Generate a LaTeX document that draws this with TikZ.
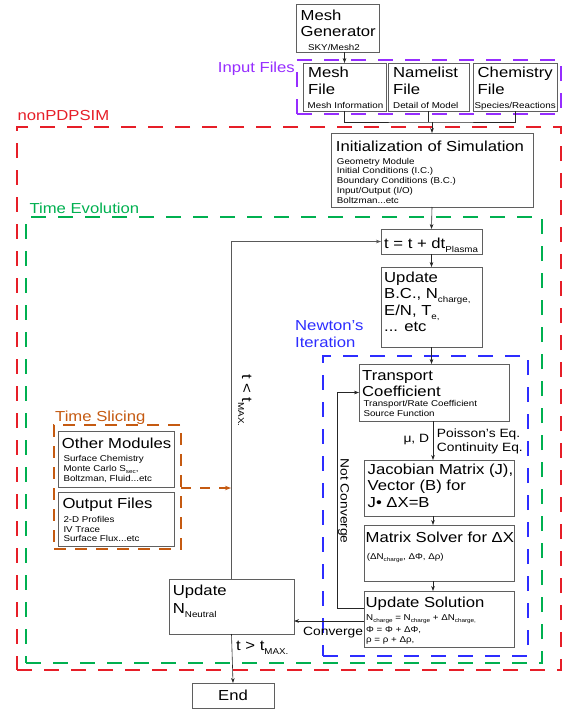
\documentclass[tikz,border=0pt]{standalone}
\usepackage{fontspec}
\setmainfont{Liberation Sans}[FakeStretch=1.15]
\usetikzlibrary{arrows.meta}
\definecolor{nred}{RGB}{230,30,40}
\definecolor{npurple}{RGB}{150,45,255}
\definecolor{ngreen}{RGB}{0,176,80}
\definecolor{nblue}{RGB}{45,45,255}
\definecolor{norange}{RGB}{197,90,17}
\definecolor{boxgray}{RGB}{95,95,95}
\newcommand\fbig{\fontsize{14.5}{16.5}\selectfont}
\newcommand\fsmall{\fontsize{8.5}{9.8}\selectfont}
\newcommand\fmid{\fontsize{12}{14.4}\selectfont}
\newcommand\topB{\rule{0pt}{11pt}}
\newcommand\topS{\rule{0pt}{7pt}}
\newcommand\topM{\rule{0pt}{9pt}}
\newcommand\lsub[1]{\raisebox{-4pt}{\fontsize{8.5}{9}\selectfont #1}}
\newcommand\ssub[1]{\raisebox{-1.8pt}{\fontsize{5.5}{6}\selectfont #1}}
\tikzset{
 nbox/.style={draw=boxgray, line width=0.9pt, inner sep=0pt, outer sep=0pt, anchor=north west},
 dframe/.style={draw=#1, line width=1.2pt, dash pattern=on 15pt off 12pt, inner sep=0pt, outer sep=0pt, anchor=north west},
 bt/.style={anchor=north west, inner sep=0pt, align=left, font=\fbig},
 st/.style={anchor=north west, inner sep=0pt, align=left, font=\fsmall},
 mt/.style={anchor=north west, inner sep=0pt, align=left, font=\fmid},
 lab/.style={anchor=base west, inner sep=0pt, font=\fbig},
 mlab/.style={anchor=base west, inner sep=0pt, font=\fmid},
 arr/.style={draw=black!85, line width=0.6pt, -{Stealth[length=5pt,width=3.6pt]}},
 ln/.style={draw=black!85, line width=0.6pt},
}
\begin{document}
\begin{tikzpicture}[x=1pt,y=-1pt]
\useasboundingbox (0,0) rectangle (582,718);

% dashed frames
\node[dframe=nred, minimum width=544pt, minimum height=543pt] (nonpd) at (17,127) {};
\node[dframe=ngreen, minimum width=516pt, minimum height=446pt] (tevo) at (26,217) {};
\node[dframe=nblue, minimum width=205pt, minimum height=300pt] (newt) at (323,356) {};
\node[dframe=norange, dash pattern=on 12pt off 9pt, minimum width=127pt, minimum height=124pt] (tsl) at (54,425) {};
\node[dframe=npurple, minimum width=264pt, minimum height=54pt] (inp) at (297,60) {};

% frame labels
\node[lab, text=npurple] (inpL) at (217.7,72.7) {Input Files};
\node[lab, text=nred] (nonL) at (17.3,120.7) {nonPDPSIM};
\node[lab, text=ngreen] (tevL) at (29.3,213.3) {Time Evolution};
\node[bt, text=nblue, font=\fontsize{14.5}{16.6}\selectfont] (newL) at (295,319.7) {\topB Newton's\\Iteration};
\node[lab, text=norange] (tslL) at (55,421) {Time Slicing};

% boxes
\node[nbox, minimum width=83pt, minimum height=48pt] (gen) at (296,4) {};
\node[nbox, minimum width=83pt, minimum height=48pt] (meshf) at (303,63) {};
\node[nbox, minimum width=81pt, minimum height=48pt] (namef) at (388,63) {};
\node[nbox, minimum width=84pt, minimum height=48pt] (chemf) at (473,63) {};
\node[nbox, minimum width=202pt, minimum height=74pt] (init) at (331,133) {};
\node[nbox, minimum width=101pt, minimum height=25pt] (tbox) at (381,229) {};
\node[nbox, minimum width=101pt, minimum height=80pt] (upd) at (381,267) {};
\node[nbox, minimum width=150pt, minimum height=57pt] (trans) at (359,364) {};
\node[nbox, minimum width=150pt, minimum height=56pt] (jac) at (364,460) {};
\node[nbox, minimum width=150pt, minimum height=56pt] (msolve) at (364,525) {};
\node[nbox, minimum width=150pt, minimum height=56pt] (usol) at (364,591) {};
\node[nbox, minimum width=125pt, minimum height=55pt] (unn) at (169,579) {};
\node[nbox, minimum width=82pt, minimum height=25pt, font=\fbig] (endb) at (192,683) {End};
\node[nbox, minimum width=116pt, minimum height=56pt] (other) at (58,431) {};
\node[nbox, minimum width=116pt, minimum height=54pt] (outf) at (58,492) {};

% box texts
\node[bt] (genT) at (300.5,9) {\topB Mesh\\Generator};
\node[st] (genS) at (308,43) {\topS SKY/Mesh2};
\node[bt] (meshT) at (308,66.7) {\topB Mesh\\[0.5pt]File};
\node[st] (meshS) at (307.5,101.3) {\topS Mesh Information};
\node[bt] (nameT) at (393,66.7) {\topB Namelist\\[0.5pt]File};
\node[st] (nameS) at (393,101.3) {\topS Detail of Model};
\node[bt] (chemT) at (477.5,66.7) {\topB Chemistry\\[0.5pt]File};
\node[st] (chemS) at (474.5,101.3) {\topS Species/Reactions};
\node[bt] (initT) at (335.7,140.7) {\topB Initialization of Simulation};
\node[st, font=\fontsize{8.5}{9.7}\selectfont] (initS) at (336.7,157) {\topS Geometry Module\\Initial Conditions (I.C.)\\Boundary Conditions (B.C.)\\Input/Output (I/O)\\Boltzman...etc};
\node[bt] (tT) at (384,237.3) {\topB t = t + dt\lsub{Plasma}};
\node[bt, font=\fontsize{14.5}{16.4}\selectfont] (updT) at (384,271.3) {\topB Update\\B.C., N\lsub{charge,}\\E/N, T\lsub{e,}\\... etc};
\node[bt, font=\fontsize{14.5}{16.7}\selectfont] (transT) at (362,369) {\topB Transport\\Coefficient};
\node[st, font=\fontsize{8.5}{10}\selectfont] (transS) at (363.3,399.7) {\topS Transport/Rate Coefficient\\Source Function};
\node[bt, font=\fontsize{14.5}{16.7}\selectfont] (jacT) at (367.5,463) {\topB Jacobian Matrix (J),\\Vector (B) for\\J• ΔX=B};
\node[bt] (msT) at (365.5,531.7) {\topB Matrix Solver for ΔX};
\node[st] (msS) at (366.7,552.3) {\topS (ΔN\ssub{charge}, ΔΦ, Δρ)};
\node[bt] (usT) at (365.5,596.3) {\topB Update Solution};
\node[st, font=\fontsize{8.5}{10}\selectfont] (usS) at (366,613) {\topS N\ssub{charge} = N\ssub{charge} + ΔN\ssub{charge,}\\[2.7pt]Φ = Φ + ΔΦ,\\ρ = ρ + Δρ,};
\node[bt] (unnT) at (172.7,584.7) {\topB Update\\[1.1pt]N\lsub{Neutral}};
\node[bt] (otherT) at (61.7,437.3) {\topB Other Modules};
\node[st] (otherS) at (63.3,454.7) {\topS Surface Chemistry\\Monte Carlo S\ssub{sec},\\Boltzman, Fluid...etc};
\node[bt] (outT) at (62.3,497.3) {\topB Output Files};
\node[st] (outS) at (63.3,515) {\topS 2-D Profiles\\IV Trace\\Surface Flux...etc};

% connector labels
\node[mlab] (muL) at (403.3,442.7) {μ, D};
\node[mt] (poisL) at (436.7,428.3) {\topM Poisson's Eq.\\Continuity Eq.};
\node[mlab] (convL) at (303,635.3) {Converge};
\node[mlab, rotate=-90] (ncL) at (340.7,458.3) {Not Converge};
\node[lab, rotate=-90] (tltL) at (242,374) {t < t\lsub{MAX.}};
\node[lab] (tgtL) at (236,650.7) {t > t\lsub{MAX.}};

% connectors
\draw[arr] (meshf.north |- gen.south) -- (meshf.north);
\coordinate (j) at (432,122);
\draw[ln] (meshf.south) |- (j) -| (chemf.south);
\draw[ln] (namef.south) -- (namef.south |- j);
\draw[arr] (j) -- (init.north);
\draw[arr] (init.south) -- (tbox.north);
\draw[arr] (tbox.south) -- (upd.north);
\draw[arr] (upd.south) -- (upd.south |- trans.north);
\coordinate (cx) at (433,0);
\draw[arr] (cx |- trans.south) -- (cx |- jac.north);
\draw[arr] (cx |- jac.south) -- (cx |- msolve.north);
\draw[arr] (cx |- msolve.south) -- (cx |- usol.north);
\draw[arr] ([yshift=11pt]usol.west) -- ++(-27,0) |- (trans.west);
\coordinate (cv) at (300,621);
\draw[arr] (usol.west |- cv) -- (unn.east |- cv);
\draw[arr, draw=black!65, line width=0.9pt] (unn.north) |- (tbox.west);
\draw[arr] (unn.south) -- (endb.north);
\coordinate (tlo) at (231,488);
\draw[draw=norange, line width=1.1pt, dash pattern=on 10pt off 9pt, -{Stealth[length=6pt,width=4.5pt]}] (tsl.east |- tlo) -- (tlo);
\end{tikzpicture}
\end{document}
